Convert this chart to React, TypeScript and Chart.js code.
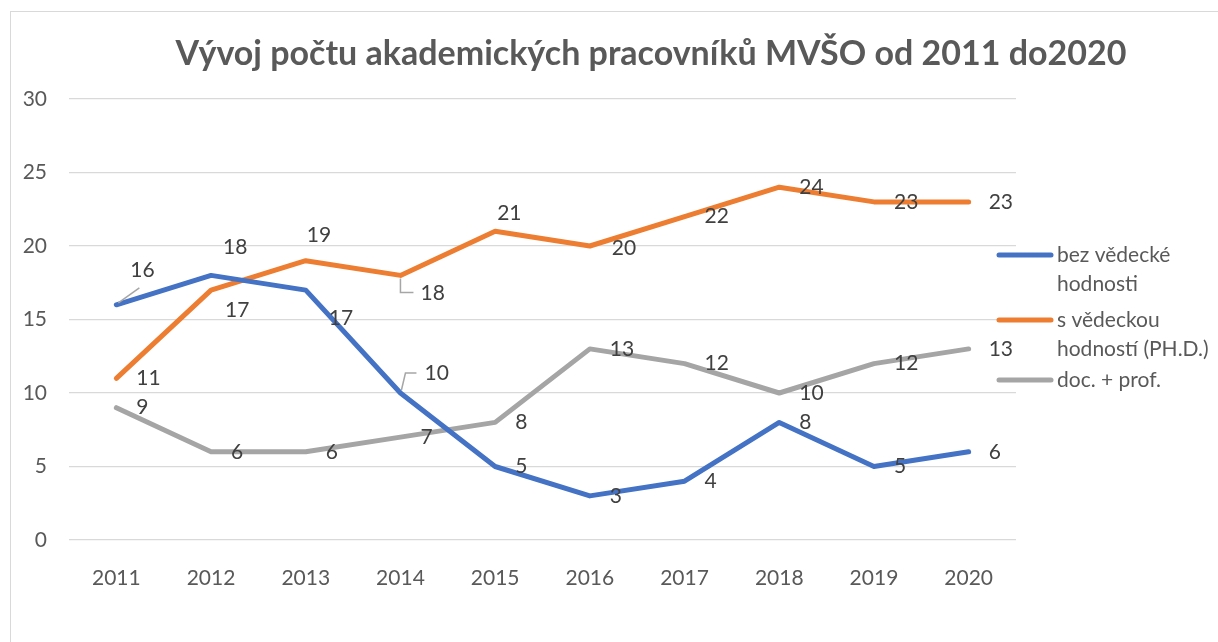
import React, { useEffect, useRef } from "react";
import { Chart, registerables } from "chart.js";

Chart.register(...registerables);

const TITLE = "Vývoj počtu akademických pracovníků MVŠO od 2011 do2020";
const YEARS = ["2011", "2012", "2013", "2014", "2015", "2016", "2017", "2018", "2019", "2020"];
const BEZ = [16, 18, 17, 10, 5, 3, 4, 8, 5, 6];
const PHD = [11, 17, 19, 18, 21, 20, 22, 24, 23, 23];
const DOCPROF = [9, 6, 6, 7, 8, 13, 12, 10, 12, 13];
const SERIES_NAMES = [["bez vědecké", "hodnosti"], ["s vědeckou", "hodností (PH.D.)"], ["doc. + prof."]];
const COLORS = ["#4472C4", "#ED7D31", "#A5A5A5"];

// label nudges (dataset:index -> [dx, dy, leader])
const LABEL_NUDGE: Record<string, [number, number, string?]> = {
  "0:0": [14, -35, "diag"],
  "0:1": [12, -28],
  "0:2": [23, 28],
  "0:3": [24, -20, "up"],
  "1:1": [14, 20],
  "1:2": [1, -25],
  "1:3": [20, 18, "down"],
  "1:4": [2, -18],
  "1:5": [22, 2],
};

const FONT = "Lato, 'Open Sans', sans-serif";
const FS = 21;

export default function App() {
  const ref = useRef<HTMLCanvasElement>(null);
  useEffect(() => {
    const canvas = ref.current!;
    const overlay = {
      id: "overlay",
      afterDraw(chart: any) {
        const ctx = chart.ctx;
        ctx.save();
        // title
        ctx.fillStyle = "#595959";
        ctx.font = `bold 34px ${FONT}`;
        ctx.textAlign = "center";
        ctx.textBaseline = "middle";
        ctx.fillText(TITLE, 651, 54);
        // data labels
        ctx.font = `${FS}px ${FONT}`;
        ctx.textAlign = "left";
        chart.data.datasets.forEach((ds: any, di: number) => {
          const meta = chart.getDatasetMeta(di);
          meta.data.forEach((pt: any, i: number) => {
            const n = LABEL_NUDGE[`${di}:${i}`] || [20, 0];
            const x = pt.x + n[0];
            const y = pt.y + n[1];
            const txt = String(ds.data[i]);
            ctx.fillStyle = "#404040";
            ctx.fillText(txt, x, y);
            if (n[2]) {
              ctx.strokeStyle = "#A6A6A6";
              ctx.lineWidth = 1.5;
              ctx.beginPath();
              if (n[2] === "diag") {
                ctx.moveTo(pt.x + 2, pt.y - 2);
                ctx.lineTo(pt.x + 23, pt.y - 17);
              } else if (n[2] === "up") {
                ctx.moveTo(pt.x + 1, pt.y - 3);
                ctx.lineTo(pt.x + 5, pt.y - 20);
                ctx.lineTo(pt.x + 16, pt.y - 20);
              } else if (n[2] === "down") {
                ctx.moveTo(pt.x, pt.y + 3);
                ctx.lineTo(pt.x, pt.y + 17);
                ctx.lineTo(pt.x + 13, pt.y + 17);
              }
              ctx.stroke();
            }
          });
        });
        // legend
        const ys = [255, 320, 380];
        SERIES_NAMES.forEach((lines, i) => {
          const y = ys[i];
          ctx.strokeStyle = COLORS[i];
          ctx.lineWidth = 5;
          ctx.lineCap = "round";
          ctx.beginPath();
          ctx.moveTo(999, y);
          ctx.lineTo(1051, y);
          ctx.stroke();
          ctx.fillStyle = "#595959";
          ctx.font = `${FS}px ${FONT}`;
          ctx.textAlign = "left";
          lines.forEach((l, k) => ctx.fillText(l, 1057, y + k * 29));
        });
        ctx.restore();
      },
    };
    const mk = (label: string, data: number[], color: string) => ({
      label,
      data,
      borderColor: color,
      backgroundColor: color,
      borderWidth: 5,
      pointRadius: 0,
      pointHoverRadius: 0,
      tension: 0,
      borderCapStyle: "round" as const,
      borderJoinStyle: "round" as const,
    });
    const chart = new Chart(canvas, {
      type: "line",
      data: {
        labels: YEARS,
        datasets: [
          mk(SERIES_NAMES[0].join(" "), BEZ, COLORS[0]),
          mk(SERIES_NAMES[1].join(" "), PHD, COLORS[1]),
          mk(SERIES_NAMES[2].join(" "), DOCPROF, COLORS[2]),
        ],
      },
      options: {
        animation: false,
        responsive: false,
        maintainAspectRatio: false,
        layout: { padding: { left: 0, right: 202, top: 99, bottom: 52 } },
        plugins: { legend: { display: false }, title: { display: false }, tooltip: { enabled: false } },
        scales: {
          x: {
            offset: true,
            grid: { display: false },
            border: { display: false },
            ticks: { color: "#595959", font: { family: FONT, size: FS }, padding: 18, maxRotation: 0 },
            afterFit: (s: any) => { s.height = 50; },
          },
          y: {
            min: 0,
            max: 30,
            ticks: { stepSize: 5, color: "#595959", font: { family: FONT, size: FS }, padding: 22 },
            grid: { color: "#D9D9D9", lineWidth: 1.3, drawTicks: false },
            border: { display: false },
            afterFit: (s: any) => { s.width = 69; },
          },
        },
      },
      plugins: [overlay],
    });
    return () => chart.destroy();
  }, []);
  return (
    <div style={{ position: "fixed", left: 0, top: 0, width: 1218, height: 642, overflow: "hidden", background: "#fff" }}>
      <div style={{ position: "absolute", left: 10, top: 11, width: 1300, height: 700, borderLeft: "1.5px solid #D9D9D9", borderTop: "1.5px solid #D9D9D9" }} />
      <canvas ref={ref} width={1218} height={642} style={{ position: "absolute", left: 0, top: 0 }} />
    </div>
  );
}
